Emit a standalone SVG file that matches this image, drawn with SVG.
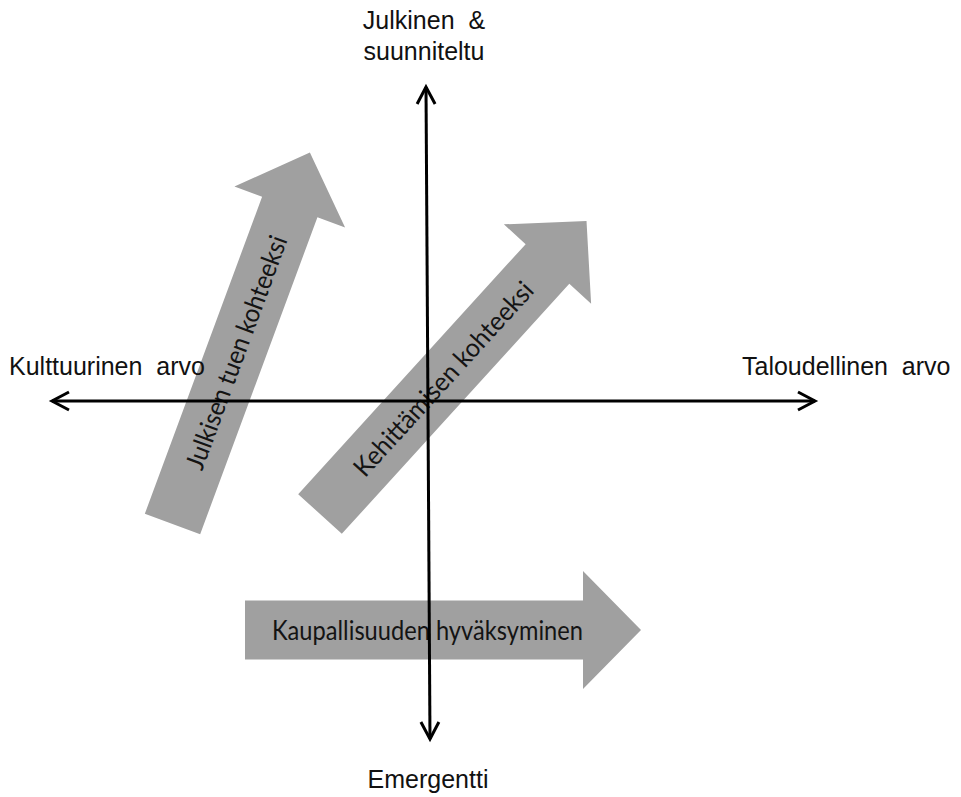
<svg xmlns="http://www.w3.org/2000/svg" width="961" height="797" viewBox="0 0 961 797">
  <style>
    .band { fill: #a0a0a0; }
    .band-label { font-family: "Lato", "Liberation Sans", sans-serif; font-size: 26px; fill: #141414; text-anchor: middle; }
    .axis-label { font-family: "Liberation Sans", Arial, sans-serif; font-size: 25px; fill: #111; }
    .axis { stroke: #000; stroke-width: 3; fill: none; }
  </style>
  <defs>
    <!-- open chevron used at both ends of each axis -->
    <marker id="chev" markerUnits="userSpaceOnUse" markerWidth="30" markerHeight="30" viewBox="-20 -15 30 30" refX="0" refY="0" orient="auto-start-reverse" overflow="visible">
      <path d="M-17,-9 L0,0 L-17,9" fill="none" stroke="#000" stroke-width="3"/>
    </marker>
    <!-- wide block arrow, tail centre at origin, pointing along +x -->
    <path id="blockArrow" d="M0,-29.5 H338 V-59 L396,0 L338,59 V29.5 H0 Z"/>
  </defs>

  <rect width="961" height="797" fill="#fff"/>

  <g id="arrow-julkisen-tuen" transform="translate(172.5,524) rotate(-69.7)">
    <use href="#blockArrow" class="band"/>
    <text class="band-label" x="183" y="9.5" textLength="247" lengthAdjust="spacingAndGlyphs">Julkisen tuen kohteeksi</text>
  </g>

  <g id="arrow-kehittamisen" transform="translate(320,514) rotate(-47.7)">
    <use href="#blockArrow" class="band"/>
    <text class="band-label" x="183" y="9.5" textLength="253" lengthAdjust="spacingAndGlyphs">Kehittämisen kohteeksi</text>
  </g>

  <g id="arrow-kaupallisuuden" transform="translate(245,630)">
    <use href="#blockArrow" class="band"/>
    <text class="band-label" x="182.5" y="9.5" textLength="311" lengthAdjust="spacingAndGlyphs">Kaupallisuuden hyväksyminen</text>
  </g>

  <g id="connectors">
    <line class="axis" x1="52" y1="401" x2="815" y2="401" marker-start="url(#chev)" marker-end="url(#chev)"/>
    <line class="axis" x1="426" y1="87" x2="430" y2="739" marker-start="url(#chev)" marker-end="url(#chev)"/>
  </g>

  <g id="label-top">
    <text class="axis-label" x="424" y="29" text-anchor="middle" xml:space="preserve">Julkinen  &amp;</text>
    <text class="axis-label" x="424" y="60" text-anchor="middle">suunniteltu</text>
  </g>
  <g id="label-bottom">
    <text class="axis-label" x="428" y="788" text-anchor="middle">Emergentti</text>
  </g>
  <g id="label-left">
    <text class="axis-label" x="9" y="375" xml:space="preserve">Kulttuurinen  arvo</text>
  </g>
  <g id="label-right">
    <text class="axis-label" x="742" y="375" xml:space="preserve">Taloudellinen  arvo</text>
  </g>
</svg>
